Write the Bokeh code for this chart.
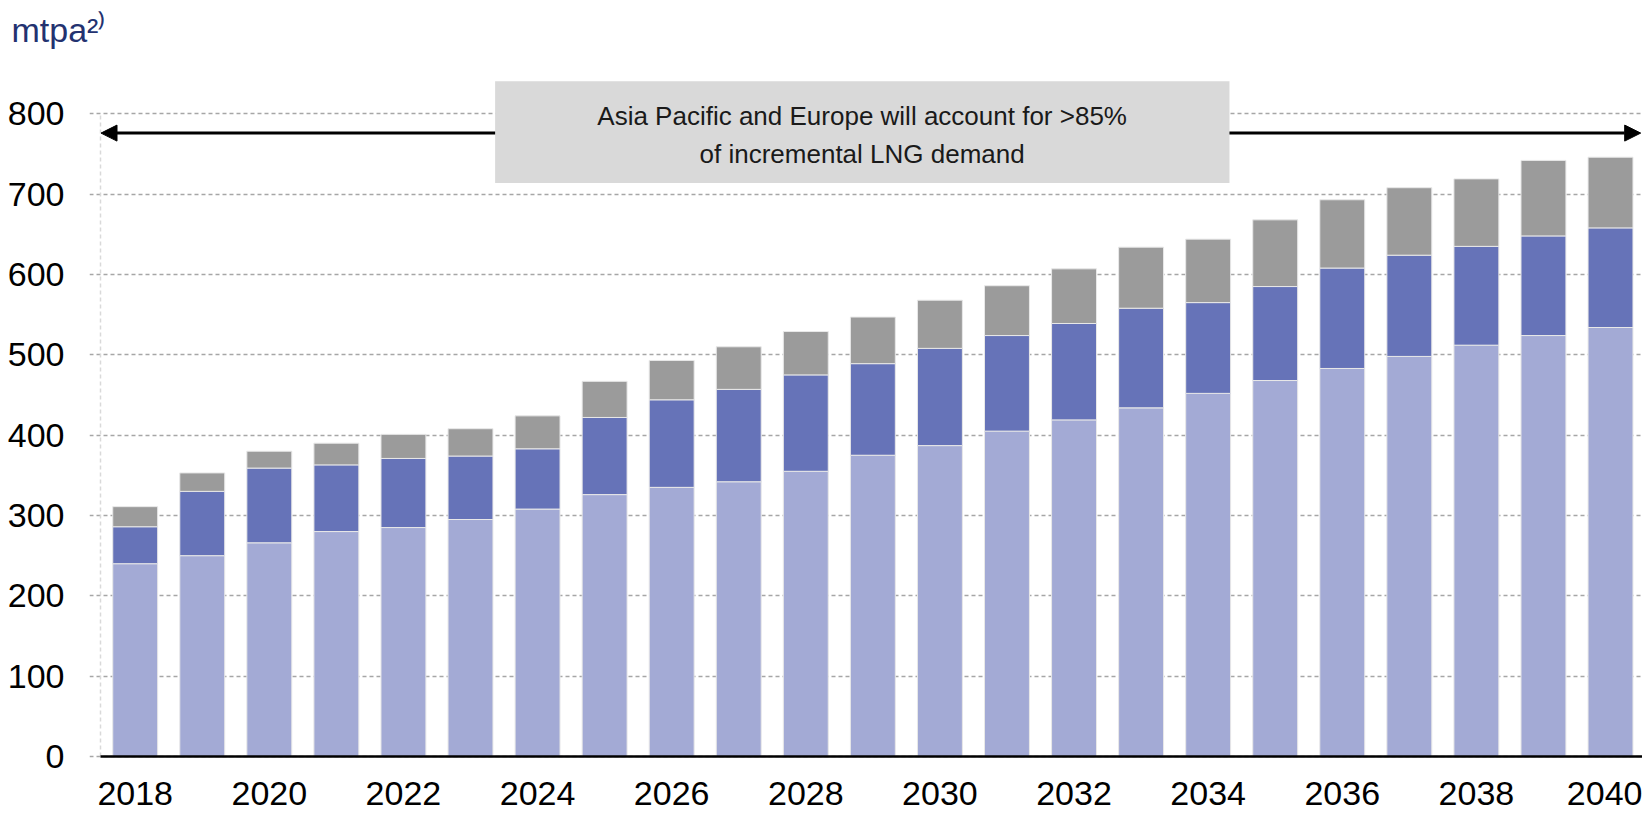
from bokeh.plotting import figure
from bokeh.models import (ColumnDataSource, Range1d, FixedTicker, Label, BoxAnnotation,
                          Arrow, NormalHead, Title)
from bokeh.embed import file_html
from bokeh.resources import INLINE

# ---- data (mtpa) ----
years = list(range(2018, 2041))
asia_pacific = [240, 250, 266, 280, 285, 295, 308, 326, 335, 342, 355, 375, 387, 405, 419, 434, 452, 468, 483, 498, 512, 524, 534]
europe = [46, 80, 93, 83, 86, 79, 75, 96, 109, 115, 120, 114, 121, 119, 120, 124, 113, 117, 125, 126, 123, 124, 124]
rest_of_world = [25, 23, 21, 27, 30, 34, 41, 45, 49, 53, 54, 58, 60, 62, 68, 76, 79, 83, 85, 84, 84, 94, 88]
y_ticks = [0, 100, 200, 300, 400, 500, 600, 700, 800]
x_ticks = [2018, 2020, 2022, 2024, 2026, 2028, 2030, 2032, 2034, 2036, 2038, 2040]
unit_label = "mtpa\u00b2\u207e"
note_line1 = "Asia Pacific and Europe will account for >85%"
note_line2 = "of incremental LNG demand"

FONT = "Liberation Sans"

src = ColumnDataSource(dict(year=years, ap=asia_pacific, eu=europe, row=rest_of_world))

p = figure(width=1642, height=813, output_backend="svg", toolbar_location=None,
           x_range=Range1d(2017.3185, 2040.477), y_range=Range1d(-21.16, 867.6),
           min_border_left=89, min_border_right=0, min_border_top=59, min_border_bottom=40)
p.outline_line_color = None
p.background_fill_color = "white"
p.border_fill_color = "white"

p.title = Title(text=unit_label, align="left", offset=-78, text_font=FONT,
                text_font_size="34px", text_font_style="normal", text_color="#233270",
                standoff=18, vertical_align="top")

# grid
p.xgrid.grid_line_color = None
p.ygrid.grid_line_color = "#a6a6a6"
p.ygrid.grid_line_dash = "4 3"
p.ygrid.grid_line_width = 1.5

# vertical dashed axis line
p.segment(x0=[2017.4825], y0=[0], x1=[2017.4825], y1=[800], line_color="#d9d9d9",
          line_width=1.5, line_dash="4 3")

# stacked bars
p.vbar_stack(["ap", "eu", "row"], x="year", width=0.67, source=src,
             color=["#a3aad5", "#6673b8", "#9b9b9b"], line_color="#e8e8e8", line_width=1)

# baseline
p.segment(x0=[2017.4825], y0=[0], x1=[2040.477], y1=[0], line_color="black", line_width=2.5)

# axes
p.yaxis.ticker = FixedTicker(ticks=y_ticks)
p.yaxis.axis_line_color = None
p.yaxis.major_tick_line_color = None
p.yaxis.minor_tick_line_color = None
p.yaxis.major_label_text_font = FONT
p.yaxis.major_label_text_font_size = "34px"
p.yaxis.major_label_text_color = "black"
p.yaxis.major_label_standoff = 19

p.xaxis.ticker = FixedTicker(ticks=x_ticks)
p.xaxis.axis_line_color = None
p.xaxis.major_tick_line_color = None
p.xaxis.minor_tick_line_color = None
p.xaxis.major_label_text_font = FONT
p.xaxis.major_label_text_font_size = "34px"
p.xaxis.major_label_text_color = "black"
p.xaxis.major_label_standoff = 2

# arrow across chart
p.add_layout(Arrow(x_start=2017.49, y_start=776, x_end=2040.45, y_end=776,
                   start=NormalHead(size=16, fill_color="black", line_color="black"),
                   end=NormalHead(size=16, fill_color="black", line_color="black"),
                   line_color="black", line_width=3))

# annotation box
p.add_layout(BoxAnnotation(left=2023.367, right=2034.318, bottom=714, top=840.5,
                           fill_color="#d9d9d9", fill_alpha=1, line_color=None))
p.add_layout(Label(x=2028.84, y=796.9, text=note_line1, text_align="center",
                   text_baseline="middle", text_font=FONT, text_font_size="26px",
                   text_color="#1a1a1a"))
p.add_layout(Label(x=2028.84, y=749.6, text=note_line2, text_align="center",
                   text_baseline="middle", text_font=FONT, text_font_size="26px",
                   text_color="#1a1a1a"))

open("out.html", "w").write(file_html(p, INLINE))
